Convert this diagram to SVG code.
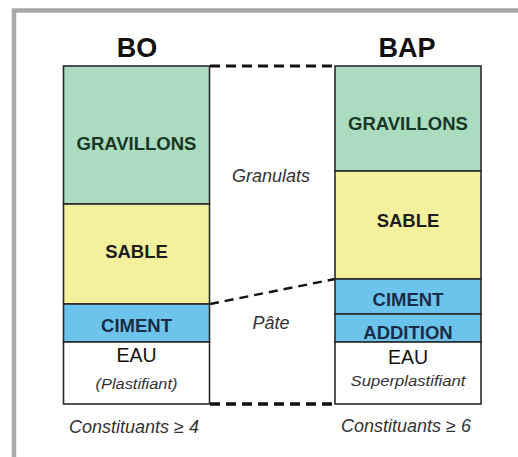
<svg xmlns="http://www.w3.org/2000/svg" width="518" height="457" viewBox="0 0 518 457">
  <style>
    .box { stroke: #2a2a2a; stroke-width: 1.6; }
    .grav { fill: #acdcbf; }
    .sable { fill: #f4f19e; }
    .ciment { fill: #6cc4ec; }
    .eau { fill: #ffffff; }
    .lbl { font-family: "Liberation Sans", Arial, sans-serif; text-anchor: middle; }
    .b { font-weight: bold; font-size: 18.5px; }
    .title { font-weight: bold; font-size: 27px; fill: #111; }
    .it { font-style: italic; font-size: 18px; fill: #333; }
    .small { font-style: italic; font-size: 15px; fill: #333; }
    .dash { fill: none; stroke: #111; }
  </style>

  <rect width="518" height="457" fill="#ffffff"/>
  <!-- outer frame (top and left edges) -->
  <path d="M14 457 V10.5 H518" fill="none" stroke="#a9a9a9" stroke-width="4.5"/>

  <!-- connectors between the two columns -->
  <g id="connectors">
    <line class="dash" x1="210" y1="66" x2="335" y2="66" stroke-width="3" stroke-dasharray="10 6"/>
    <line class="dash" x1="210" y1="304" x2="335" y2="279" stroke-width="2.4" stroke-dasharray="9 6"/>
    <line class="dash" x1="210" y1="404" x2="335" y2="404" stroke-width="3.5" stroke-dasharray="10 6"/>
  </g>

  <g id="labels-middle">
    <text class="lbl it" x="271" y="182">Granulats</text>
    <text class="lbl it" x="271" y="329">Pâte</text>
  </g>

  <!-- BO column -->
  <g id="bo">
    <text class="lbl title" x="137" y="57">BO</text>
    <g id="bo-gravillons">
      <rect class="box grav" x="63.5" y="66" width="146" height="138"/>
      <text class="lbl b" x="136.5" y="150" fill="#173826">GRAVILLONS</text>
    </g>
    <g id="bo-sable">
      <rect class="box sable" x="63.5" y="204" width="146" height="100"/>
      <text class="lbl b" x="136.5" y="258" fill="#1e1e1e">SABLE</text>
    </g>
    <g id="bo-ciment">
      <rect class="box ciment" x="63.5" y="304" width="146" height="38"/>
      <text class="lbl b" x="136.5" y="332" fill="#1a2d48">CIMENT</text>
    </g>
    <g id="bo-eau">
      <rect class="box eau" x="63.5" y="342" width="146" height="62"/>
      <text class="lbl" x="136.5" y="362" font-size="19.5" fill="#111">EAU</text>
      <text class="lbl small" x="136.5" y="389" textLength="82" lengthAdjust="spacingAndGlyphs">(Plastifiant)</text>
    </g>
    <text class="lbl it" x="134" y="433">Constituants ≥ 4</text>
  </g>

  <!-- BAP column -->
  <g id="bap">
    <text class="lbl title" x="407" y="57">BAP</text>
    <g id="bap-gravillons">
      <rect class="box grav" x="335" y="66" width="146" height="105"/>
      <text class="lbl b" x="408" y="130" fill="#173826">GRAVILLONS</text>
    </g>
    <g id="bap-sable">
      <rect class="box sable" x="335" y="171" width="146" height="108"/>
      <text class="lbl b" x="408" y="227" fill="#1e1e1e">SABLE</text>
    </g>
    <g id="bap-ciment">
      <rect class="box ciment" x="335" y="279" width="146" height="35"/>
      <text class="lbl b" x="408" y="306" fill="#1a2d48">CIMENT</text>
    </g>
    <g id="bap-addition">
      <rect class="box ciment" x="335" y="314" width="146" height="28"/>
      <text class="lbl b" x="408" y="339" fill="#1a2d48">ADDITION</text>
    </g>
    <g id="bap-eau">
      <rect class="box eau" x="335" y="342" width="146" height="62"/>
      <text class="lbl" x="408" y="364" font-size="19.5" fill="#111">EAU</text>
      <text class="lbl small" x="408" y="386" textLength="115" lengthAdjust="spacingAndGlyphs">Superplastifiant</text>
    </g>
    <text class="lbl it" x="406" y="432">Constituants ≥ 6</text>
  </g>
</svg>
